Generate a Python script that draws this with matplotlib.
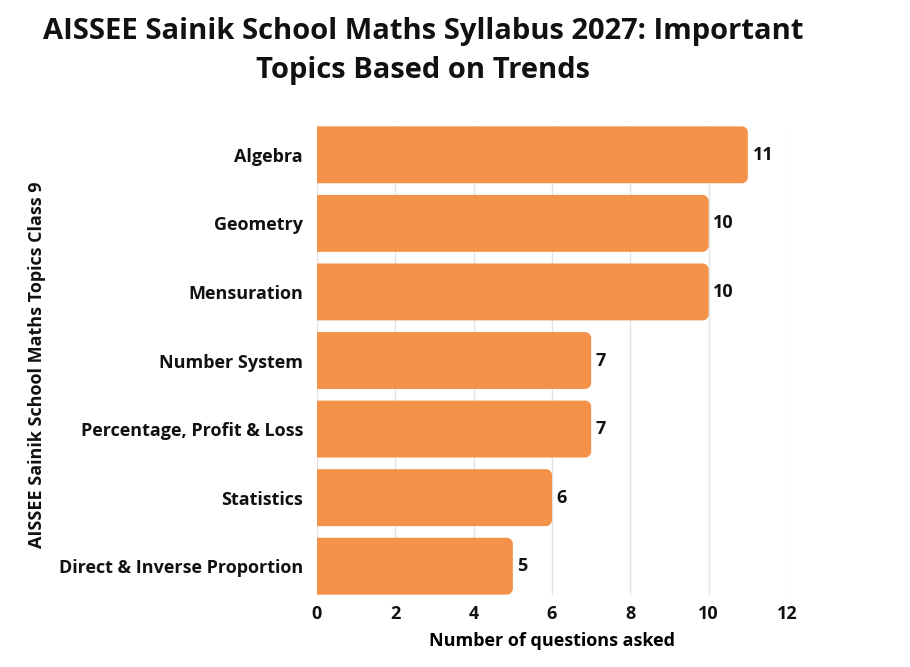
import matplotlib
matplotlib.use("Agg")
import matplotlib.pyplot as plt
from matplotlib.patches import PathPatch
from matplotlib.path import Path

# data
topics = ["Algebra", "Geometry", "Mensuration", "Number System",
          "Percentage, Profit & Loss", "Statistics",
          "Direct & Inverse Proportion"]
questions = [11, 10, 10, 7, 7, 6, 5]
xticks = [0, 2, 4, 6, 8, 10, 12]

bar_color = "#F4924A"
plt.rcParams["font.family"] = ["Open Sans", "DejaVu Sans"]
plt.rcParams["font.weight"] = "bold"


def right_rounded(x0, y0, w, h, rx, ry):
    # bar outline: square on the left, rounded on the right
    k = 0.55
    x1, y1 = x0 + w, y0 + h
    verts = [(x0, y0), (x1 - rx, y0),
             (x1 - rx + k * rx, y0), (x1, y0 + ry - k * ry), (x1, y0 + ry),
             (x1, y1 - ry),
             (x1, y1 - ry + k * ry), (x1 - rx + k * rx, y1), (x1 - rx, y1),
             (x0, y1), (x0, y0)]
    codes = [Path.MOVETO, Path.LINETO,
             Path.CURVE4, Path.CURVE4, Path.CURVE4,
             Path.LINETO,
             Path.CURVE4, Path.CURVE4, Path.CURVE4,
             Path.LINETO, Path.CLOSEPOLY]
    return Path(verts, codes)


fig = plt.figure(figsize=(9.1, 6.67), dpi=100)
ax = fig.add_axes([317 / 910, 1 - 595 / 667, 470 / 910, (595 - 126) / 667])

ypos = list(range(len(topics)))
bars = ax.barh(ypos, questions, height=0.83, color=bar_color)

# swap plain bars for ones with rounded right-hand corners
px_x = 470 / 12.0
px_y = (595 - 126) / 6.84
for b in bars:
    x0, y0 = b.get_x(), b.get_y()
    w, h = b.get_width(), b.get_height()
    b.set_visible(False)
    ax.add_patch(PathPatch(right_rounded(x0, y0, w, h, 6 / px_x, 6 / px_y),
                           fc=bar_color, ec="none", zorder=2))
    ax.text(w + 0.12, y0 + h / 2, str(w), va="center", ha="left",
            fontsize=13, fontweight="bold", color="#111111")

ax.set_xlim(0, 12)
ax.set_ylim(6.42, -0.42)
ax.set_xticks(xticks)
ax.set_yticks(ypos)
ax.set_yticklabels(topics)
ax.tick_params(axis="both", length=0, labelsize=13, colors="#111111")
ax.tick_params(axis="y", pad=10)
ax.tick_params(axis="x", pad=7)
ax.grid(axis="x", color="#e3e3e3", linewidth=1, zorder=0)
ax.set_axisbelow(True)
for s in ax.spines.values():
    s.set_visible(False)

ax.set_xlabel("Number of questions asked", fontsize=13, fontweight="bold",
              labelpad=7)
fig.text(37 / 910, 1 - 365 / 667, "AISSEE Sainik School Maths Topics Class 9",
         rotation=90, ha="center", va="center", fontsize=13,
         fontweight="bold", color="#111111")

fig.text(423 / 910, 1 - 51 / 667,
         "AISSEE Sainik School Maths Syllabus 2027: Important\nTopics Based on Trends",
         ha="center", va="center", fontsize=21, fontweight="bold",
         linespacing=1.45, color="#111111")

fig.savefig("out.png", dpi=100)
